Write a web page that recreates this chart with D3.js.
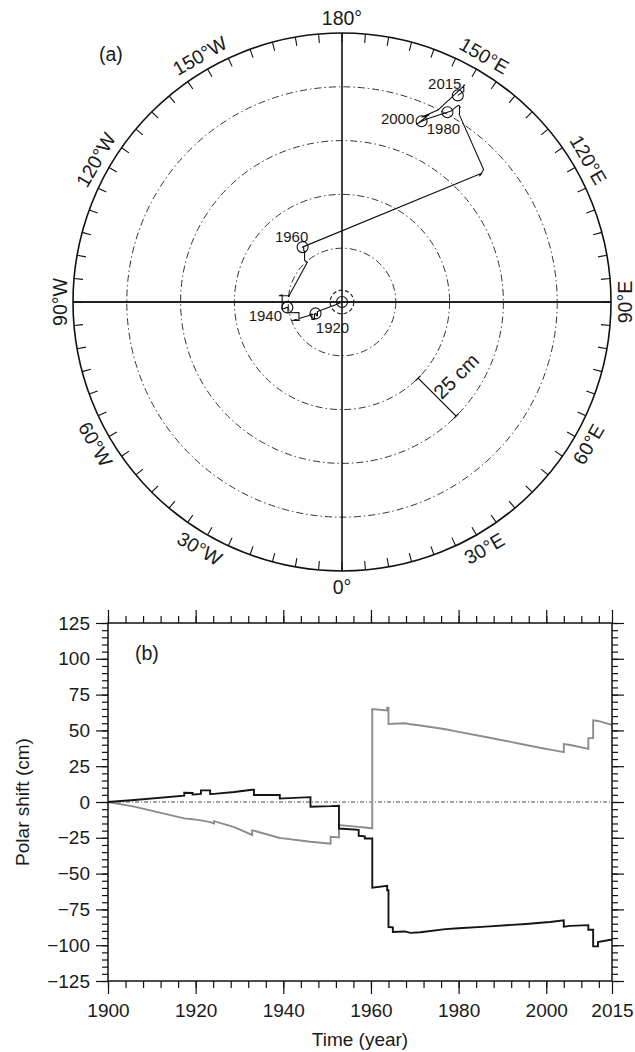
<!DOCTYPE html>
<html>
<head>
<meta charset="utf-8">
<script src="https://cdn.jsdelivr.net/npm/d3@7"></script>
<style>
  body { margin: 0; background: #fff; }
  svg { display: block; font-family: "Liberation Sans", Arial, Helvetica, sans-serif; }
</style>
</head>
<body>
<svg id="fig" width="635" height="1052"></svg>
<script>
// polar shift record, cm (a repeated year is an instantaneous jump)
const years = [
  1900.0, 1906.0, 1917.4, 1917.4, 1919.3, 1919.3, 1920.0, 1921.2, 1921.2, 1923.3,
  1923.3, 1924.2, 1924.2, 1928.8, 1932.9, 1932.9, 1933.3, 1933.3, 1939.2, 1939.2,
  1940.0, 1946.2, 1946.2, 1950.8, 1950.8, 1952.7, 1952.7, 1957.2, 1957.2, 1958.6,
  1958.6, 1960.0, 1960.3, 1960.3, 1963.7, 1963.7, 1964.0, 1964.0, 1965.0, 1965.0,
  1967.7, 1969.0, 1971.3, 1977.0, 1980.0, 1986.2, 1995.4, 2000.0, 2000.9, 2004.0,
  2004.0, 2005.5, 2009.6, 2009.6, 2010.7, 2010.7, 2011.8, 2011.8, 2015.0
];
// black curve: shift along the 0° meridian
const shiftBlack = [
  0.0, 1.4, 4.4, 6.5, 6.3, 5.2, 5.3, 5.6, 8.1, 8.1,
  5.6, 5.7, 5.7, 7.0, 8.6, 8.6, 8.6, 4.9, 5.0, 2.4,
  2.5, 3.4, -3.3, -2.9, -2.9, -2.6, -18.5, -19.4, -23.6, -24.0,
  -25.5, -25.5, -25.5, -59.8, -58.6, -61.6, -61.6, -87.3, -87.5, -90.8,
  -90.4, -91.4, -91.0, -88.8, -88.2, -87.0, -85.2, -84.0, -83.8, -82.6,
  -87.0, -86.5, -86.0, -89.2, -89.2, -100.8, -100.8, -97.8, -96.0
];
// gray curve: shift along 90°E
const shiftGray = [
  0.0, -3.2, -11.4, -11.4, -12.0, -12.0, -12.3, -12.8, -12.8, -14.0,
  -14.0, -14.9, -13.4, -17.6, -23.0, -19.8, -20.0, -20.0, -25.1, -25.1,
  -25.4, -27.8, -27.8, -29.2, -24.3, -24.8, -16.1, -17.4, -17.4, -17.8,
  -17.8, -18.3, -18.4, 64.9, 64.0, 65.8, 65.8, 54.4, 54.6, 54.6,
  55.0, 54.3, 53.4, 50.8, 49.0, 45.4, 39.8, 37.0, 36.6, 34.8,
  40.4, 39.8, 37.1, 44.6, 44.6, 57.0, 56.6, 56.6, 53.8
];

const markerYears = [1900, 1920, 1940, 1960, 1980, 2000, 2015];
const ringValues = [25, 50, 75, 100];
const innerRing = 5.5;
const outerRing = 125;
const scaleBar = [50, 75];   // cm, drawn along 45°E
const lonLabels = [
  [180, "180°"], [150, "150°E"], [120, "120°E"], [90, "90°E"], [60, "60°E"], [30, "30°E"],
  [0, "0°"], [-30, "30°W"], [-60, "60°W"], [-90, "90°W"], [-120, "120°W"], [-150, "150°W"]
];

const yTicks = [-125, -100, -75, -50, -25, 0, 25, 50, 75, 100, 125];
const xTicks = [1900, 1920, 1940, 1960, 1980, 2000, 2015];
const xMinor = d3.range(1900, 2015, 4);
const yMinor = d3.range(-125, 126, 5);

const svg = d3.select("#fig");

// ---------- (a) polar plot ----------
const cx = 342, cy = 302, R = 269;
const r = d3.scaleLinear().domain([0, outerRing]).range([0, R]);
const px = d3.scaleLinear().domain([-outerRing, outerRing]).range([cx - R, cx + R]);
const py = d3.scaleLinear().domain([-outerRing, outerRing]).range([cy - R, cy + R]);

const gp = svg.append("g");

// screen angle of a longitude (east positive, 0° at bottom)
function phi(lon) { return (lon - 90) * Math.PI / 180; }
function polar(lon, rad) {
  return [cx + rad * Math.cos(phi(lon)), cy - rad * Math.sin(phi(lon))];
}

gp.selectAll("circle.ring")
  .data(ringValues)
  .enter().append("circle")
  .attr("class", "ring")
  .attr("cx", cx).attr("cy", cy)
  .attr("r", d => r(d))
  .attr("fill", "none")
  .attr("stroke", "#333")
  .attr("stroke-width", 1)
  .attr("stroke-dasharray", "7,3,1.5,3");

gp.append("circle")
  .attr("cx", cx).attr("cy", cy)
  .attr("r", r(innerRing))
  .attr("fill", "none")
  .attr("stroke", "#222")
  .attr("stroke-width", 1.2)
  .attr("stroke-dasharray", "4,2.5");

// cross lines
gp.append("line")
  .attr("x1", cx).attr("x2", cx).attr("y1", cy - R).attr("y2", cy + R)
  .attr("stroke", "#111").attr("stroke-width", 1.6);
gp.append("line")
  .attr("x1", cx - R).attr("x2", cx + R).attr("y1", cy).attr("y2", cy)
  .attr("stroke", "#222").attr("stroke-width", 1.8);

gp.append("circle")
  .attr("cx", cx).attr("cy", cy).attr("r", R)
  .attr("fill", "none").attr("stroke", "#111").attr("stroke-width", 1.6);

// ticks every 5 degrees, pointing inward
gp.selectAll("line.tick")
  .data(d3.range(0, 360, 5))
  .enter().append("line")
  .attr("class", "tick")
  .attr("x1", d => polar(d, R)[0]).attr("y1", d => polar(d, R)[1])
  .attr("x2", d => polar(d, R - 9)[0]).attr("y2", d => polar(d, R - 9)[1])
  .attr("stroke", "#111").attr("stroke-width", 1.1);

gp.selectAll("text.lon")
  .data(lonLabels)
  .enter().append("text")
  .attr("class", "lon")
  .attr("transform", d => {
    const p = polar(d[0], R + (Math.abs(d[0]) === 90 ? 13.5 : 15.5));
    let rot = 180 - d[0];
    rot = ((rot + 90) % 360 + 360) % 360 - 90;
    if (rot >= 90) rot -= 180;
    return `translate(${p[0]},${p[1]}) rotate(${rot})`;
  })
  .attr("text-anchor", "middle")
  .attr("dominant-baseline", "central")
  .attr("font-size", 19.5)
  .attr("fill", "#1a1a1a")
  .text(d => d[1]);

// scale bar
const sb0 = polar(45, r(scaleBar[0])), sb1 = polar(45, r(scaleBar[1]));
gp.append("line")
  .attr("x1", sb0[0]).attr("y1", sb0[1]).attr("x2", sb1[0]).attr("y2", sb1[1])
  .attr("stroke", "#111").attr("stroke-width", 1.3);
[sb0, sb1].forEach(p => {
  gp.append("line")
    .attr("x1", p[0] - 2.5).attr("y1", p[1] + 2.5).attr("x2", p[0] + 2.5).attr("y2", p[1] - 2.5)
    .attr("stroke", "#111").attr("stroke-width", 1.3);
});
const sbm = polar(45, r((scaleBar[0] + scaleBar[1]) / 2));
gp.append("text")
  .attr("transform", `translate(${sbm[0] + 19},${sbm[1] - 21}) rotate(-45)`)
  .attr("text-anchor", "middle")
  .attr("dominant-baseline", "central")
  .attr("font-size", 20)
  .attr("fill", "#1a1a1a")
  .text("25 cm");

// trajectory
const track = years.map((y, i) => ({ year: y, b: shiftBlack[i], g: shiftGray[i] }));
gp.append("path")
  .datum(track)
  .attr("d", d3.line().x(d => px(d.g)).y(d => py(d.b)))
  .attr("fill", "none")
  .attr("stroke", "#111")
  .attr("stroke-width", 1.1)
  .attr("stroke-linejoin", "round");

const markers = markerYears.map(y => Object.assign({ label: y }, track.find(d => d.year >= y)));
const labelOffset = { 1920: [17, 14], 1940: [-22, 8], 1960: [-11, -11], 1980: [-4, 16], 2000: [-24, -3], 2015: [-13, -12] };

gp.selectAll("circle.mark")
  .data(markers)
  .enter().append("circle")
  .attr("class", "mark")
  .attr("cx", d => px(d.g)).attr("cy", d => py(d.b))
  .attr("r", 5.5)
  .attr("fill", "none").attr("stroke", "#111").attr("stroke-width", 1.1);

gp.selectAll("text.yr")
  .data(markers.filter(d => labelOffset[d.label]))
  .enter().append("text")
  .attr("class", "yr")
  .attr("x", d => px(d.g) + labelOffset[d.label][0])
  .attr("y", d => py(d.b) + labelOffset[d.label][1])
  .attr("text-anchor", "middle")
  .attr("dominant-baseline", "central")
  .attr("font-size", 15)
  .attr("fill", "#1a1a1a")
  .text(d => d.label);

svg.append("text")
  .attr("x", 99).attr("y", 61)
  .attr("font-size", 19.5)
  .attr("fill", "#1a1a1a")
  .text("(a)");

// ---------- (b) time series ----------
const plot = { left: 108, right: 612, top: 623, bottom: 981 };
const x = d3.scaleLinear().domain([1900, 2015]).range([plot.left, plot.right]);
const y = d3.scaleLinear().domain([-125, 125]).range([plot.bottom, plot.top]);

const gb = svg.append("g");

function axis(gen, tr, vals, size, fmt) {
  const a = gen.tickValues(vals).tickSize(size).tickSizeOuter(0).tickPadding(6)
    .tickFormat(fmt || (() => ""));
  const g = gb.append("g").attr("transform", tr).call(a);
  g.select(".domain").remove();
  g.selectAll("line").attr("stroke", "#111").attr("stroke-width", 1.2);
  g.selectAll("text")
    .attr("font-size", 19)
    .attr("font-family", "'Liberation Sans', Arial, sans-serif")
    .attr("fill", "#1a1a1a");
  return g;
}

axis(d3.axisBottom(x), `translate(0,${plot.bottom})`, xMinor, 7);
axis(d3.axisBottom(x), `translate(0,${plot.bottom})`, xTicks, 13, d3.format("d"))
  .selectAll("text").attr("dy", "0.9em");
axis(d3.axisTop(x), `translate(0,${plot.top})`, xMinor, 7);
axis(d3.axisTop(x), `translate(0,${plot.top})`, xTicks, 13);
axis(d3.axisLeft(y), `translate(${plot.left},0)`, yMinor, 6);
axis(d3.axisLeft(y), `translate(${plot.left},0)`, yTicks, 12, d3.format("d"));
axis(d3.axisRight(y), `translate(${plot.right},0)`, yMinor, 6);
axis(d3.axisRight(y), `translate(${plot.right},0)`, yTicks, 12);

// zero line
gb.append("line")
  .attr("x1", x(1900)).attr("x2", x(2015)).attr("y1", y(0)).attr("y2", y(0))
  .attr("stroke", "#333").attr("stroke-width", 0.9)
  .attr("stroke-dasharray", "4,2,1,2");

const lineG = d3.line().x(d => x(d.year)).y(d => y(d.g));
const lineB = d3.line().x(d => x(d.year)).y(d => y(d.b));

gb.append("path").datum(track).attr("d", lineG)
  .attr("fill", "none").attr("stroke", "#8c8c8c").attr("stroke-width", 1.9);
gb.append("path").datum(track).attr("d", lineB)
  .attr("fill", "none").attr("stroke", "#141414").attr("stroke-width", 1.9);

gb.append("rect")
  .attr("x", plot.left).attr("y", plot.top)
  .attr("width", plot.right - plot.left).attr("height", plot.bottom - plot.top)
  .attr("fill", "none").attr("stroke", "#111").attr("stroke-width", 1.5);

gb.append("text")
  .attr("x", 135).attr("y", 660)
  .attr("font-size", 19.5).attr("fill", "#1a1a1a")
  .text("(b)");

gb.append("text")
  .attr("transform", `translate(29,${y(0)}) rotate(-90)`)
  .attr("text-anchor", "middle")
  .attr("font-size", 19).attr("fill", "#1a1a1a")
  .text("Polar shift (cm)");

gb.append("text")
  .attr("x", (plot.left + plot.right) / 2).attr("y", 1046)
  .attr("text-anchor", "middle")
  .attr("font-size", 19).attr("fill", "#1a1a1a")
  .text("Time (year)");
</script>
</body>
</html>
